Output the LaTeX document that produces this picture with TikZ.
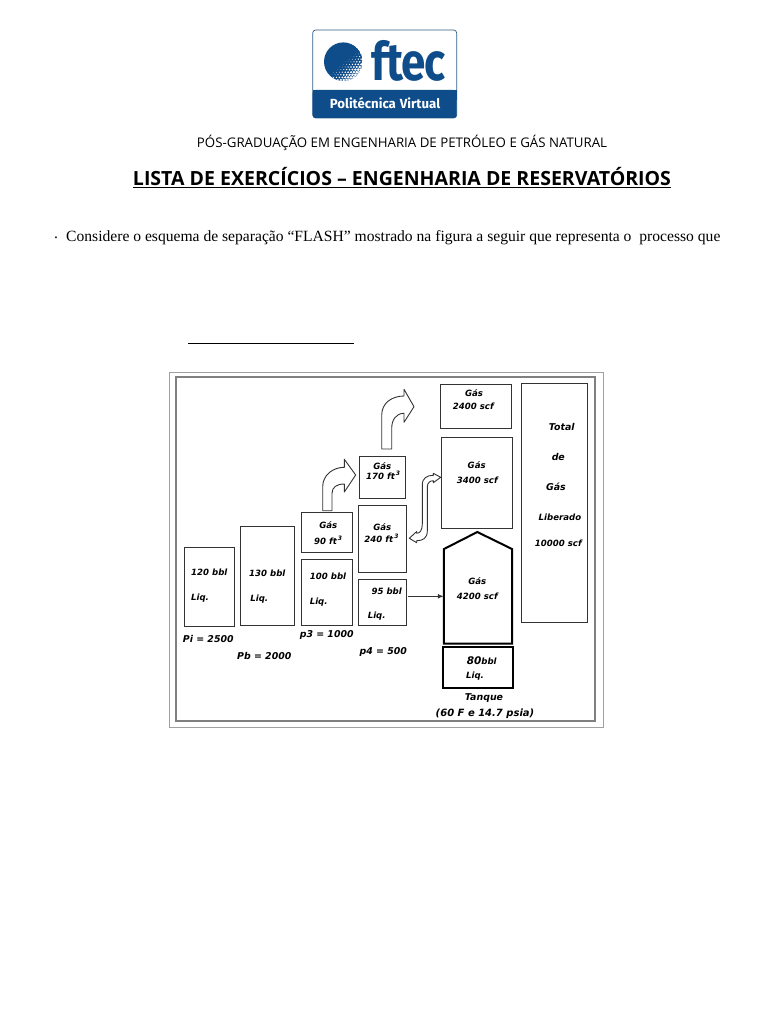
\documentclass[tikz,border=0pt]{standalone}
\usepackage{fontspec}
\usepackage{graphicx}
\setmainfont{Liberation Serif}
\newfontfamily\hand{DejaVu Sans}
\newfontfamily\heads{Open Sans}
\newfontfamily\logofont{Fira Sans}
\usetikzlibrary{calc,arrows.meta}
\definecolor{ink}{HTML}{333333}
\definecolor{frameg}{HTML}{808080}
\definecolor{ftecblue}{HTML}{0F4C8A}
\tikzset{
  box/.style={draw=ink,line width=1pt,inner sep=0pt,rectangle},
  heavy/.style={draw=black,line width=2pt,inner sep=0pt,rectangle},
  hw/.style={font=\hand\bfseries\itshape\fontsize{8.6}{10}\selectfont,text=black,inner sep=0pt},
  hwl/.style={font=\hand\bfseries\itshape\fontsize{9.4}{11}\selectfont,text=black,inner sep=0pt},
  blockarrow/.style={draw=ink,line width=0.9pt,fill=white,line join=round},
}
\newcommand{\bx}[6]{\node[#1,minimum width={(#4-#2)*1pt},minimum height={(#5-#3)*1pt}] (#6) at ({(#2+#4)/2},{(#3+#5)/2}) {};}
\begin{document}
\begin{tikzpicture}[x=1pt,y=-1pt]
\useasboundingbox (0,0) rectangle (768,1024);
\fill[white] (0,0) rectangle (768,1024);

% logo
\node[draw=ftecblue!70!gray,line width=0.7pt,rounded corners=3pt,minimum width=144pt,minimum height=88pt,inner sep=0pt] (logoframe) at (384.7,74) {};
\fill[ftecblue,rounded corners=3pt] (312.7,90) rectangle (456.7,118);
\fill[ftecblue] (312.7,90) rectangle (456.7,100);
\node[inner sep=0pt,text=white,font=\logofont\bfseries\fontsize{13.2}{14}\selectfont] (logotext) at (385,103.5) {Politécnica\hspace{4pt}Virtual};
\node[inner sep=0pt,anchor=base,text=ftecblue,font=\logofont\bfseries\fontsize{44}{46}\selectfont] (logoname) at (408.5,81) {\scalebox{1}[1.2]{\addfontfeature{LetterSpace=-2}ftec}};
\begin{scope}
  \clip (343.3,61.7) circle (19.3);
  \fill[ftecblue] (343.3,61.7) circle (19.3);
  \foreach \i in {0,...,16}{\foreach \j in {0,...,16}{
    \pgfmathsetmacro{\px}{322+\i*2.9+mod(\j,2)*1.45}
    \pgfmathsetmacro{\py}{41+\j*2.6}
    \pgfmathsetmacro{\tt}{((\px-343.3)+(\py-61.7)*1.2)/27}
    \pgfmathsetmacro{\rr}{max(0,\tt+0.02)*1.55}
    \ifdim\rr pt>0.05pt
      \fill[white] (\px,\py) circle (\rr);
    \fi
  }}
\end{scope}

% headings
\node[inner sep=0pt,font=\heads\fontsize{13}{15}\selectfont] (subtitle) at (402,143) {\resizebox{410pt}{!}{PÓS-GRADUAÇÃO EM ENGENHARIA DE PETRÓLEO E GÁS NATURAL}};
\node[inner sep=0pt,font=\heads\bfseries\fontsize{17}{20}\selectfont] (title) at (402,177) {\resizebox{538pt}{!}{LISTA DE EXERCÍCIOS – ENGENHARIA DE RESERVATÓRIOS}};
\coordinate (tl) at (133,187.3);
\coordinate (tr) at (671,187.3);
\draw[line width=1.3pt] (tl) -- (tr);
\node[inner sep=0pt,anchor=west,font=\fontsize{15.6}{17}\selectfont] (dotmark) at (54,237.5) {.};
\node[inner sep=0pt,anchor=west,font=\fontsize{15.6}{17}\selectfont] (line1) at (66,237.5) {Considere o esquema de separação “FLASH” mostrado na figura a seguir que representa o\hspace{4pt} processo que};
\coordinate (ul) at (188,343);
\coordinate (ur) at (354,343);
\draw[line width=0.8pt] (ul) -- (ur);

% frame
\node[draw=frameg!75,line width=1pt,inner sep=0pt,minimum width=434pt,minimum height=355pt] (outerframe) at (386,549.5) {};
\node[draw=frameg,line width=1.3pt,inner sep=0pt,minimum width=419pt,minimum height=344pt] (innerframe) at (385.5,549) {};

% arrows (block)
\draw[blockarrow] (322.7,510.7) -- (322.7,486.7) .. controls (322.7,475) and (333,467.3) .. (344.3,467.3) -- (344.3,459.3) -- (355.7,475) -- (344.3,492) -- (344.3,484) .. controls (337,484) and (332,487) .. (332,493.3) -- (332,510.7) -- cycle;
\draw[blockarrow] (381.7,449) -- (381.7,415) .. controls (381.7,403) and (392,396) .. (404,396) -- (404,389.3) -- (414,406.7) -- (404,422.3) -- (404,413.3) .. controls (396,413.3) and (391.7,420) .. (391.7,428.3) -- (391.7,449) -- cycle;
\draw[blockarrow] (440.7,477.3) -- (433.3,473.3) -- (433.3,475.3) .. controls (427,475.3) and (422.3,478) .. (422.3,485) -- (422.3,524) .. controls (422.3,530) and (420,533.3) .. (416.7,533.3) -- (416.7,531.5) -- (409.3,538.3) -- (416.7,542.7) -- (416.7,540.7) .. controls (423,540.7) and (427.3,538) .. (427.3,531) -- (427.3,487) .. controls (427.3,482.7) and (430,480.7) .. (433.3,480.7) -- (433.3,482.7) -- cycle;

% boxes
\bx{box}{184.3}{547.7}{234.7}{626.7}{b120}
\bx{box}{240.7}{526.7}{294.7}{625.7}{b130}
\bx{box}{301}{512.3}{352}{552.3}{g90}
\bx{box}{301}{559}{352}{625.7}{b100}
\bx{box}{359}{456.7}{405}{498}{g170}
\bx{box}{358.3}{505}{406.3}{572.3}{g240}
\bx{box}{358.3}{579}{406.3}{625}{b95}
\bx{box}{440}{384.3}{511}{428.3}{g2400}
\bx{box}{441}{437}{512.7}{528.7}{g3400}
\bx{box}{521.7}{383}{587.7}{622.3}{total}
\bx{heavy}{443.3}{646.7}{512.7}{688.3}{b80}
\node[inner sep=0pt,minimum width=68pt,minimum height=94pt] (tank) at (478,596.3) {};
\draw[line width=2pt,draw=black,line join=miter] (tank.north west) -- (477.3,532) -- (tank.north east) -- (tank.south east) -- (tank.south west) -- cycle;
\draw[-{Latex[length=6pt,width=5pt]},line width=1.2pt,draw=ink] (b95.east |- tank.west) ++(1.5,0) -- (tank.west);

% labels
\node[hw] (t1) at (209.3,572.7) {120 bbl};
\node[hw] (t2) at (200,598.3) {Liq.};
\node[hw] (t3) at (267.3,573.3) {130 bbl};
\node[hw] (t4) at (259.3,598.7) {Liq.};
\node[hw] (t5) at (328.3,525) {Gás};
\node[hw] (t6) at (328.3,540) {90 ft\textsuperscript{\,3}};
\node[hw] (t7) at (328,576) {100 bbl};
\node[hw] (t8) at (318.7,601.7) {Liq.};
\node[hwl] (t9) at (208.3,639.3) {Pi = 2500};
\node[hwl] (t10) at (264.3,655.7) {Pb = 2000};
\node[hwl] (t11) at (326.7,635) {p3 = 1000};
\node[hwl] (t12) at (383.3,652) {p4 = 500};
\node[hw] (t13) at (382.3,466) {Gás};
\node[hw] (t14) at (383.3,475) {170 ft\textsuperscript{\,3}};
\node[hw] (t15) at (382.3,526.7) {Gás};
\node[hw] (t16) at (381.7,538.3) {240 ft\textsuperscript{\,3}};
\node[hw] (t17) at (386.7,591.7) {95 bbl};
\node[hw] (t18) at (376.7,616) {Liq.};
\node[hw] (t19) at (474,393.3) {Gás};
\node[hw] (t20) at (473.3,406) {2400 scf};
\node[hw] (t21) at (476.7,465.3) {Gás};
\node[hw] (t22) at (477.3,480.7) {3400 scf};
\node[hw] (t23) at (477.3,581.3) {Gás};
\node[hw] (t24) at (477.3,596.7) {4200 scf};
\node[hw] (t25) at (481.7,661) {{\fontsize{10.5}{11}\selectfont 80}bbl};
\node[hw] (t26) at (475,675.7) {Liq.};
\node[hwl] (t27) at (484,698) {Tanque};
\node[hwl,font=\hand\bfseries\itshape\fontsize{10}{11}\selectfont] (t28) at (485,714) {(60 F e 14.7 psia)};
\node[hwl] (t29) at (561.7,426.7) {Total};
\node[hwl] (t30) at (558.3,457) {de};
\node[hwl] (t31) at (556,487) {Gás};
\node[hw] (t32) at (560,517.7) {Liberado};
\node[hw] (t33) at (558.3,543.3) {10000 scf};
\end{tikzpicture}
\end{document}
